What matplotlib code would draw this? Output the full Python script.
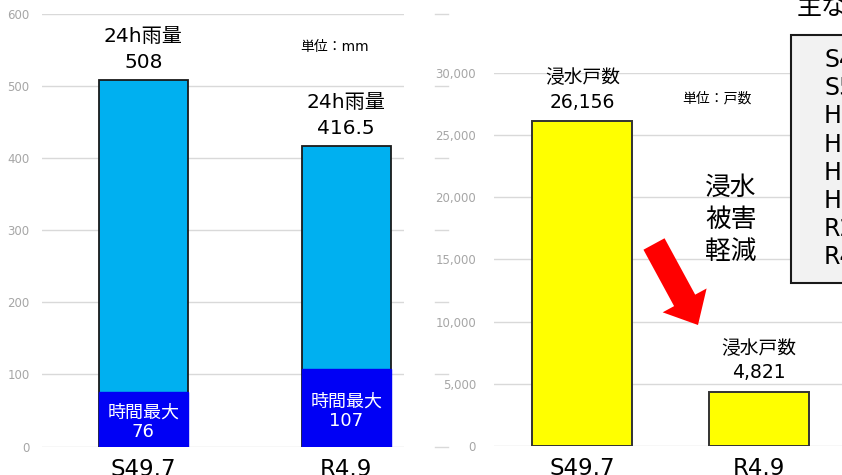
import matplotlib
matplotlib.use("Agg")
import matplotlib.pyplot as plt
from matplotlib.patches import FancyArrow, Rectangle
from matplotlib.transforms import IdentityTransform, blended_transform_factory
from matplotlib.lines import Line2D

# latin digits from DejaVu (wide, like the original), kanji fall back to Noto CJK
plt.rcParams["font.family"] = ["DejaVu Sans", "Noto Sans CJK JP"]

# --- data ---
events = ["S49.7", "R4.9"]
rain_24h = [508, 416.5]
rain_24h_lbl = ["508", "416.5"]
rain_hour = [76, 107]
houses = [26083, 4350]          # bar heights as drawn in the picture
houses_lbl = ["26,156", "4,821"]
left_ticks = [0, 100, 200, 300, 400, 500, 600]
right_ticks = [0, 5000, 10000, 15000, 20000, 25000, 30000]
box_lines = ["S49.7", "S57.7", "H2.7", "H3.6", "H9.8", "H12.9", "R2.7", "R4.9"]

W, H = 842, 475
fig = plt.figure(figsize=(W/100, H/100), dpi=100)
GRID = "#D9D9D9"; TICK = "#A6A6A6"

def px(x0, y0, x1, y1):
    return [x0/W, 1-y1/H, (x1-x0)/W, (y1-y0)/H]

# ---------- left: rainfall ----------
ax1 = fig.add_axes(px(42, 14, 404, 446.5))
xs = range(len(events))
ax1.bar(xs, rain_24h, width=0.44, color="#00B0F0", edgecolor="#1a1a1a", lw=1.3, zorder=2)
ax1.bar(xs, rain_hour, width=0.44, color="#0000F5", edgecolor="#0000F5", lw=1.0, zorder=3)
ax1.set_xlim(-0.5, 1.285); ax1.set_ylim(0, 600)
ax1.set_yticks(left_ticks)
ax1.grid(axis="y", color=GRID, lw=1.0, zorder=0)
for s in ax1.spines.values(): s.set_visible(False)
ax1.tick_params(axis="y", length=0, pad=9, labelsize=8.5, labelcolor=TICK)
ax1.tick_params(axis="x", length=0, pad=8, labelsize=16.5)
ax1.set_xticks(list(xs)); ax1.set_xticklabels(events)
for i in xs:
    ax1.annotate(f"24h雨量\n{rain_24h_lbl[i]}", (i, rain_24h[i]), xytext=(0, 6),
                 textcoords="offset points", ha="center", va="bottom", fontsize=14.5, linespacing=1.45)
    ax1.text(i, rain_hour[i]/2 - 4, f"時間最大\n{rain_hour[i]}", ha="center", va="center",
             color="white", fontsize=13, linespacing=1.1, zorder=4)
fig.text(300/W, 1-47/H, "単位：mm", fontsize=10, va="center", ha="left")

# stray bits of the left gridlines showing at the edge of the right chart
tr = blended_transform_factory(fig.transFigure, ax1.transData)
for t in left_ticks:
    fig.lines.append(Line2D([435/W, 448/W], [t, t], transform=tr, color=GRID, lw=1.0))

# ---------- right: flooded houses ----------
ax2 = fig.add_axes(px(494, 72.7, 842, 446))
ax2.bar(xs, houses, width=0.565, color="#FFFF00", edgecolor="#333333", lw=1.4, zorder=2)
ax2.set_xlim(-0.5, 1.47); ax2.set_ylim(0, 30000)
ax2.set_yticks(right_ticks)
ax2.set_yticklabels([f"{v:,}" for v in right_ticks])
ax2.grid(axis="y", color=GRID, lw=1.0, zorder=0)
for s in ax2.spines.values(): s.set_visible(False)
ax2.tick_params(axis="y", length=0, pad=13, labelsize=8.5, labelcolor=TICK)
ax2.tick_params(axis="x", length=0, pad=8, labelsize=16.5)
ax2.set_xticks(list(xs)); ax2.set_xticklabels(events)
for i in xs:
    ax2.annotate(f"浸水戸数\n{houses_lbl[i]}", (i, houses[i]), xytext=(0, 7),
                 textcoords="offset points", ha="center", va="bottom", fontsize=13.5, linespacing=1.35)
fig.text(682/W, 1-98/H, "単位：戸数", fontsize=10, va="center", ha="left")

fig.text(731/W, 1-220/H, "浸水\n被害\n軽減", fontsize=18.5, ha="center", va="center", linespacing=1.3)

fig.patches.append(FancyArrow(654, H-244, 44, -81, width=24, head_width=50, head_length=28,
                              length_includes_head=True, color="#FF0000", lw=0,
                              transform=IdentityTransform()))

# side box (cut off by the right edge)
fig.patches.append(Rectangle((791/W, 1-283/H), 80/W, 248/H, transform=fig.transFigure,
                             facecolor="#F2F2F2", edgecolor="#1a1a1a", lw=1.5, zorder=5))
for k, s in enumerate(box_lines):
    fig.text(824/W, 1-(60+28.2*k)/H, s, fontsize=17, ha="left", va="center", zorder=6)
fig.text(797/W, 1-8/H, "主な豪雨", fontsize=18, ha="left", va="center")

fig.savefig("out.png", dpi=100)
